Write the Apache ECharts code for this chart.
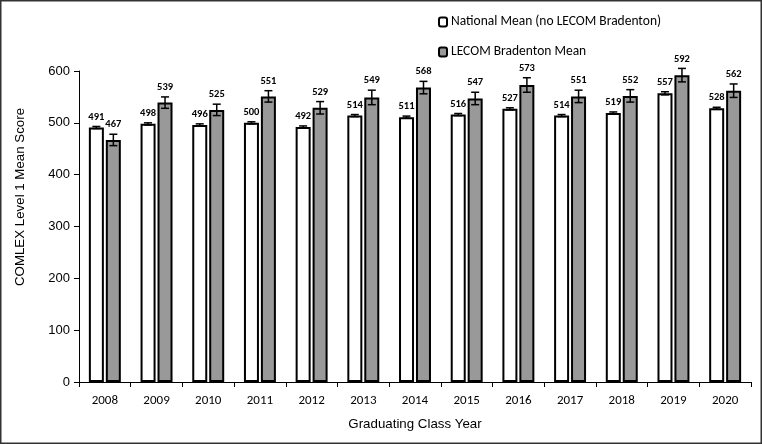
<!DOCTYPE html>
<html>
<head>
<meta charset="utf-8">
<script src="https://cdn.jsdelivr.net/npm/echarts@6/dist/echarts.min.js"></script>
<style>
  html, body { margin: 0; padding: 0; background: #fff; }
  #main { width: 762px; height: 444px; }
</style>
</head>
<body>
<div id="main"></div>
<script>
var years = ['2008', '2009', '2010', '2011', '2012', '2013', '2014', '2015', '2016', '2017', '2018', '2019', '2020']
var nationalMean = [491, 498, 496, 500, 492, 514, 511, 516, 527, 514, 519, 557, 528]
var nationalErr = [2, 2, 2, 2, 2, 2, 2, 2, 2, 2, 2, 3, 2]
var lecomMean = [467, 539, 525, 551, 529, 549, 568, 547, 573, 551, 552, 592, 562]
var lecomErr = [11, 11, 11, 11, 12, 14, 12, 12, 14, 12, 12, 13, 13]

var calibri = "Carlito, 'Liberation Sans', sans-serif"
var arial = "'Liberation Sans', Arial, sans-serif"

// error bar + value label, shifted onto its bar
function errorSeries(means, errs, shift) {
  return {
    type: 'custom',
    z: 5,
    data: means.map(function (m, i) { return [i, m, errs[i]] }),
    renderItem: function (params, api) {
      var i = api.value(0)
      var m = api.value(1)
      var e = api.value(2)
      var top = api.coord([i, m + e])
      var bot = api.coord([i, m - e])
      var x = top[0] + shift
      var st = { stroke: '#000', lineWidth: 1.5 }
      return {
        type: 'group',
        children: [
          { type: 'line', shape: { x1: x, y1: top[1], x2: x, y2: bot[1] }, style: st },
          { type: 'line', shape: { x1: x - 4, y1: top[1], x2: x + 4, y2: top[1] }, style: st },
          { type: 'line', shape: { x1: x - 4, y1: bot[1], x2: x + 4, y2: bot[1] }, style: st },
          {
            type: 'text',
            style: {
              x: x, y: top[1] - 4, text: String(m),
              textAlign: 'center', textVerticalAlign: 'bottom',
              font: 'bold 10.5px ' + calibri, fill: '#000'
            }
          }
        ]
      }
    }
  }
}

var myChart = echarts.init(document.getElementById('main'))
var option = {
  animation: false,
  graphic: [
    {
      type: 'rect',
      shape: { x: 0.75, y: 0.75, width: 760.5, height: 442.5 },
      style: { fill: 'none', stroke: '#333', lineWidth: 1.5 },
      z: 100
    },
    {
      type: 'text',
      x: 20, y: 197,
      rotation: Math.PI / 2,
      style: {
        text: 'COMLEX Level 1 Mean Score',
        textAlign: 'center', textVerticalAlign: 'middle',
        font: '13.3px ' + arial, fill: '#000'
      }
    }
  ],
  legend: {
    orient: 'vertical',
    left: 433,
    top: 10,
    itemWidth: 8,
    itemHeight: 9,
    itemGap: 16,
    textStyle: { fontFamily: calibri, fontSize: 13.5, color: '#000', padding: [0, 0, 0, -1] },
    data: ['National Mean (no LECOM Bradenton)', 'LECOM Bradenton Mean']
  },
  grid: { left: 79, right: 11, top: 71, bottom: 62 },
  xAxis: {
    type: 'category',
    data: years,
    name: 'Graduating Class Year',
    nameLocation: 'middle',
    nameGap: 36,
    nameTextStyle: { fontFamily: arial, fontSize: 13.3, color: '#000' },
    axisLine: { lineStyle: { color: '#000', width: 1 } },
    axisTick: { show: true, length: 5, lineStyle: { color: '#000' } },
    axisLabel: { fontFamily: calibri, fontSize: 13, color: '#000', margin: 12 }
  },
  yAxis: {
    type: 'value',
    min: 0,
    max: 600,
    interval: 100,
    splitLine: { show: false },
    axisLine: { show: true, lineStyle: { color: '#000', width: 1 } },
    axisTick: { show: true, length: 5, lineStyle: { color: '#000' } },
    axisLabel: { fontFamily: arial, fontSize: 13, color: '#000', margin: 9 }
  },
  series: [
    {
      name: 'National Mean (no LECOM Bradenton)',
      type: 'bar',
      barWidth: 15,
      barGap: '13%',
      data: nationalMean,
      itemStyle: { color: '#fff', borderColor: '#000', borderWidth: 2 }
    },
    {
      name: 'LECOM Bradenton Mean',
      type: 'bar',
      barWidth: 15,
      data: lecomMean,
      itemStyle: { color: '#999', borderColor: '#000', borderWidth: 2 }
    },
    errorSeries(nationalMean, nationalErr, -8.5),
    errorSeries(lecomMean, lecomErr, 8.5)
  ]
}
option && myChart.setOption(option)
</script>
</body>
</html>
